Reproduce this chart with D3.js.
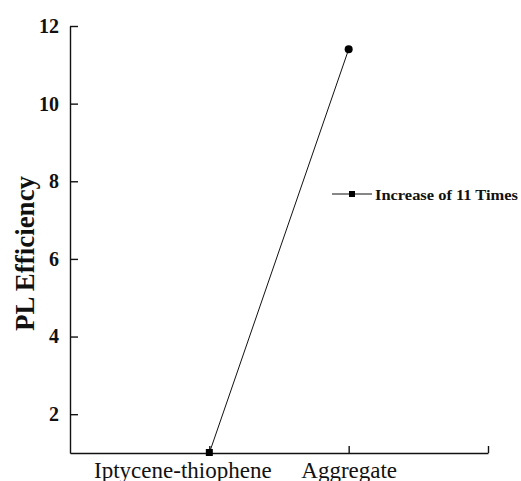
<!DOCTYPE html>
<html>
<head>
<meta charset="utf-8">
<script src="https://cdn.jsdelivr.net/npm/d3@7"></script>
<style>
  body { margin: 0; background: #fff; }
  svg { display: block; }
</style>
</head>
<body>
<div id="chart"></div>
<script>
// chart data
const categories = ["Iptycene-thiophene", "Aggregate"];
const xPositions = [1, 2];
const efficiency = [1.0, 11.4];
const yTicks = [2, 4, 6, 8, 10, 12];
const seriesName = "Increase of 11 Times";

const width = 521;
const height = 481;

// plot area
const plot = { left: 70, right: 488, top: 26, bottom: 453 };

const svg = d3.select("#chart")
  .append("svg")
    .attr("width", width)
    .attr("height", height);

const x = d3.scaleLinear()
  .domain([0, 3])
  .range([plot.left, plot.right]);

const y = d3.scaleLinear()
  .domain([1, 12])
  .range([plot.bottom, plot.top]);

// y axis, ticks point inward
const yAxis = svg.append("g")
  .attr("transform", `translate(${plot.left},0)`)
  .call(d3.axisLeft(y).tickValues(yTicks).tickSizeInner(-8).tickSizeOuter(0).tickPadding(11));

yAxis.selectAll("text")
  .style("font-family", "'Liberation Serif', 'Times New Roman', serif")
  .style("font-size", "20px")
  .style("font-weight", "bold")
  .attr("fill", "#111");

// x axis, ticks point upward
const xAxis = svg.append("g")
  .attr("transform", `translate(0,${plot.bottom})`)
  .call(d3.axisBottom(x)
    .tickValues([1, 2, 3])
    .tickFormat(d => categories[d - 1] || "")
    .tickSizeInner(-7).tickSizeOuter(0).tickPadding(9));

xAxis.selectAll("text")
  .style("font-family", "'Liberation Serif', 'Times New Roman', serif")
  .style("font-size", "23px")
  .attr("fill", "#111")
  .attr("dx", (d, i) => i === 0 ? -27 : 0);

svg.selectAll(".domain, .tick line")
  .attr("stroke", "#111")
  .attr("stroke-width", 1.4);

// y axis title
svg.append("text")
  .attr("transform", `translate(34,${(plot.top + plot.bottom) / 2 + 14}) rotate(-90)`)
  .attr("text-anchor", "middle")
  .style("font-family", "'Liberation Serif', 'Times New Roman', serif")
  .style("font-size", "27px")
  .style("font-weight", "bold")
  .attr("fill", "#111")
  .text("PL Efficiency");

// the line
const points = xPositions.map((p, i) => ({ x: p, v: efficiency[i] }));

svg.append("path")
  .datum(points)
  .attr("fill", "none")
  .attr("stroke", "#111")
  .attr("stroke-width", 1)
  .attr("d", d3.line().x(d => x(d.x)).y(d => y(d.v)));

// first point square, second round
svg.append("rect")
  .attr("x", x(points[0].x) - 3.5)
  .attr("y", y(points[0].v) - 4)
  .attr("width", 7)
  .attr("height", 7)
  .attr("fill", "#000");

svg.append("circle")
  .attr("cx", x(points[1].x))
  .attr("cy", y(points[1].v))
  .attr("r", 4)
  .attr("fill", "#000");

// legend
const legend = svg.append("g")
  .attr("transform", "translate(332,194)");

legend.append("line")
  .attr("x1", 0).attr("x2", 40)
  .attr("stroke", "#111")
  .attr("stroke-width", 1.2);

legend.append("rect")
  .attr("x", 17).attr("y", -3)
  .attr("width", 6).attr("height", 6)
  .attr("fill", "#000");

legend.append("text")
  .attr("x", 43)
  .attr("y", 5.5)
  .style("font-family", "'Liberation Serif', 'Times New Roman', serif")
  .style("font-size", "15px")
  .style("font-weight", "bold")
  .attr("textLength", 143)
  .attr("lengthAdjust", "spacingAndGlyphs")
  .attr("fill", "#111")
  .text(seriesName);
</script>
</body>
</html>
